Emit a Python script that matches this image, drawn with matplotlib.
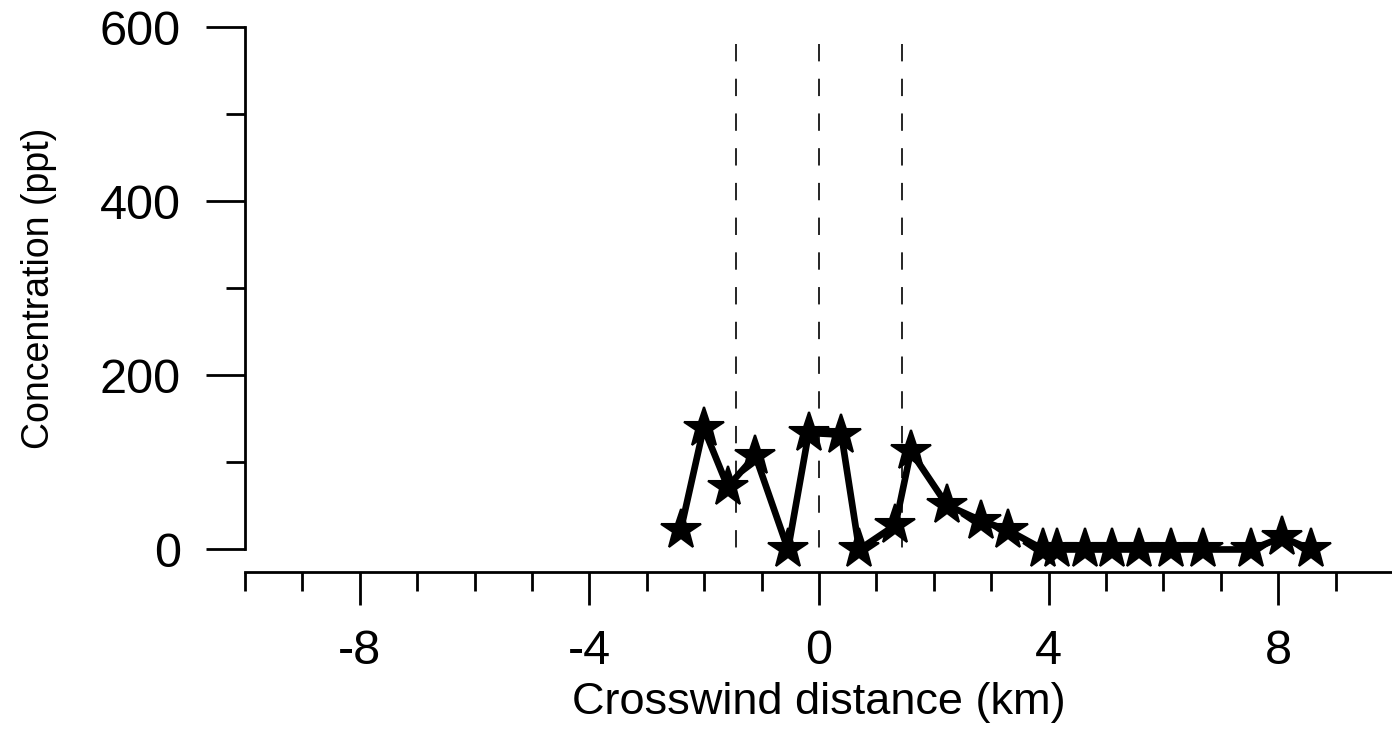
import matplotlib
matplotlib.use("Agg")
import matplotlib.pyplot as plt
from matplotlib.ticker import MultipleLocator

plt.rcParams['font.family'] = ['Liberation Sans', 'DejaVu Sans']
plt.rcParams['lines.scale_dashes'] = False
plt.rcParams['axes.unicode_minus'] = False

# Data
distance_km = [-2.41, -2.01, -1.59, -1.11, -0.54, -0.18, 0.39, 0.70, 1.33, 1.60,
               2.23, 2.83, 3.30, 3.91, 4.14, 4.63, 5.10, 5.57, 6.14, 6.69,
               7.53, 8.07, 8.58]
concentration_ppt = [22, 140, 72, 108, 0, 134, 132, 0, 28, 113,
                     51, 33, 22, 0, 0, 0, 0, 0, 0, 0,
                     0, 14, 0]
plume_lines_km = [-1.44, 0.0, 1.44]
plume_top_ppt = 581

fig = plt.figure(figsize=(13.92, 7.35), dpi=100)
ax = fig.add_axes([245 / 1392, 0.2524, 1148 / 1392, 0.7102])

# dashed reference lines
for xv in plume_lines_km:
    ax.plot([xv, xv], [plume_top_ppt, 0], color='black', linewidth=1.2,
            dashes=(12.5, 12.5), zorder=1)

ax.plot(distance_km, concentration_ppt, color='black', linewidth=4.8,
        marker='*', markersize=30, markeredgewidth=1.5, zorder=3,
        clip_on=False)

ax.set_xlim(-10, 10)
ax.set_ylim(0, 600)

ax.spines['top'].set_visible(False)
ax.spines['right'].set_visible(False)
ax.spines['bottom'].set_position(('outward', 16))
for s in ('left', 'bottom'):
    ax.spines[s].set_linewidth(2)

ax.xaxis.set_major_locator(MultipleLocator(4))
ax.xaxis.set_minor_locator(MultipleLocator(1))
ax.yaxis.set_major_locator(MultipleLocator(200))
ax.yaxis.set_minor_locator(MultipleLocator(100))

ax.tick_params(axis='x', which='major', length=24, width=2, pad=17, labelsize=35)
ax.tick_params(axis='x', which='minor', length=14, width=2)
ax.tick_params(axis='y', which='major', length=28, width=2, pad=18, labelsize=35)
ax.tick_params(axis='y', which='minor', length=14, width=2)

ax.set_xlabel("Crosswind distance (km)", fontsize=32.5, labelpad=6)
ax.set_ylabel("Concentration (ppt)", fontsize=27, labelpad=31)

fig.savefig("out.png", dpi=100)
